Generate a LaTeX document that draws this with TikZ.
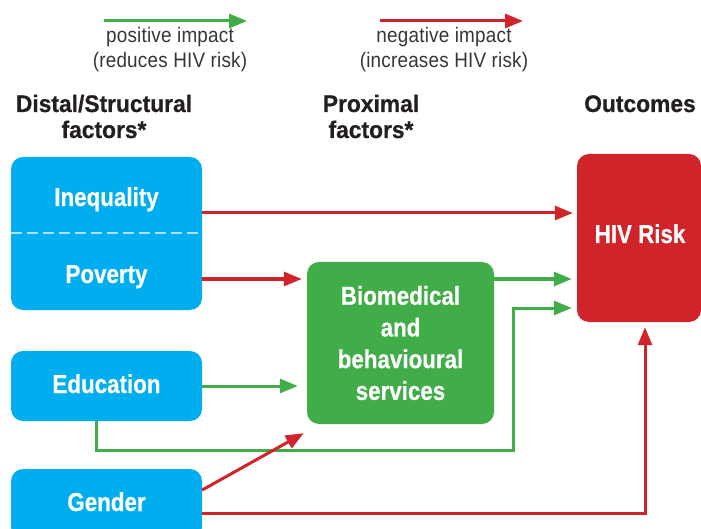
\documentclass[tikz,border=0pt]{standalone}
\usepackage{fontspec}
\setmainfont{Liberation Sans}
\newfontfamily\legfont{Liberation Sans}[FakeStretch=0.9,LetterSpace=1]
\newfontfamily\hdfont{Liberation Sans Bold}[FakeStretch=0.95,FakeBold=0.6]
\newfontfamily\bxfont{Liberation Sans Bold}[FakeStretch=0.86,FakeBold=0.5]
\usetikzlibrary{arrows.meta,calc}
\definecolor{cblue}{HTML}{00AEEF}
\definecolor{cgreen}{HTML}{40AD48}
\definecolor{cred}{HTML}{D1232A}
\definecolor{cdark}{HTML}{231F20}
\begin{document}
\begin{tikzpicture}[x=1pt,y=-1pt,
  conn/.style={line width=3pt},
  posarr/.style={conn,draw=cgreen,-{Triangle[length=18pt,width=14pt]}},
  negarr/.style={conn,draw=cred,-{Triangle[length=18pt,width=14pt]}},
  box/.style={rectangle,rounded corners=12pt,inner sep=0pt},
  bluebox/.style={box,fill=cblue,minimum width=191pt},
  btext/.style={inner sep=0pt,anchor=base,text=white,font=\bxfont\fontsize{26}{31.7}\selectfont},
  head/.style={inner sep=0pt,anchor=base,text=cdark,font=\hdfont\fontsize{24}{26}\selectfont},
  leg/.style={inner sep=0pt,anchor=base,text=cdark!90!white,font=\legfont\fontsize{21}{25}\selectfont}]
\useasboundingbox (0,0) rectangle (701,529);
\clip (0,0) rectangle (701,529);

% legend
\coordinate (lg1) at (104,21);
\coordinate (lg2) at (247,21);
\coordinate (lr1) at (380,21);
\coordinate (lr2) at (523,21);
\draw[posarr] (lg1) -- (lg2);
\draw[negarr] (lr1) -- (lr2);
\node[leg] (posa) at (170,43) {positive impact};
\node[leg] (posb) at (170,68) {(reduces HIV risk)};
\node[leg] (nega) at (444,43) {negative impact};
\node[leg] (negb) at (444,68) {(increases HIV risk)};

% headers
\node[head] (dist1) at (104,112) {Distal/Structural};
\node[head] (dist2) at (104,138) {factors*};
\node[head] (prox1) at (371,112) {Proximal};
\node[head] (prox2) at (371,138) {factors*};
\node[head] (outc) at (640,112) {Outcomes};

% boxes
\node[bluebox,minimum height=153pt] (ineqpov) at (106.5,233.5) {};
\node[btext] (ineq) at (106.5,206) {Inequality};
\node[btext] (pov) at (106.5,283) {Poverty};
\coordinate (split) at (0,233);
\draw[white!65!cblue,line width=2.4pt,dash pattern=on 11pt off 5pt]
  (ineqpov.west |- split) -- (ineqpov.east |- split);

\node[bluebox,minimum height=70pt] (edu) at (106.5,386) {};
\node[btext] (edut) at (106.5,393) {Education};

\node[bluebox,minimum height=70pt] (gender) at (106.5,504) {};
\node[btext] (gendt) at (106.5,511) {Gender};

\node[box,fill=cgreen,minimum width=187pt,minimum height=162pt,
      text=white,align=center,font=\bxfont\fontsize{26}{31.7}\selectfont]
  (bio) at (400.5,343) {Biomedical\\and\\behavioural\\services};

\node[box,fill=cred,minimum width=124pt,minimum height=168pt] (hiv) at (639,238) {};
\node[btext] (hivt) at (640,243) {HIV Risk};

% connectors
\coordinate (irow) at (0,213);
\coordinate (prow) at (0,279);
\coordinate (erow) at (0,308);
\coordinate (ecol) at (96,450);
\coordinate (eturn) at (513,450);
\coordinate (gdiag) at (0,490);
\coordinate (grow) at (0,513);
\coordinate (gcol) at (645,0);

\draw[negarr,shorten >=4pt] (ineqpov.east |- irow) -- (hiv.west |- irow);
\draw[negarr,shorten >=5pt] (ineqpov.east |- prow) -- (bio.west |- prow);
\draw[posarr,shorten >=5pt] (bio.east |- prow) -- (hiv.west |- prow);
\draw[posarr,shorten >=9pt] (edu.east) -- (bio.west |- edu.east);
\draw[posarr,shorten >=5pt] (edu.south -| ecol) -- (ecol) -- (eturn) |- (hiv.west |- erow);
\draw[negarr] (gender.east |- gdiag) -- ([xshift=-3pt,yshift=-9pt]bio.south west);
\draw[negarr,shorten >=5pt] (gender.east |- grow) -| (hiv.south -| gcol);
\end{tikzpicture}
\end{document}
